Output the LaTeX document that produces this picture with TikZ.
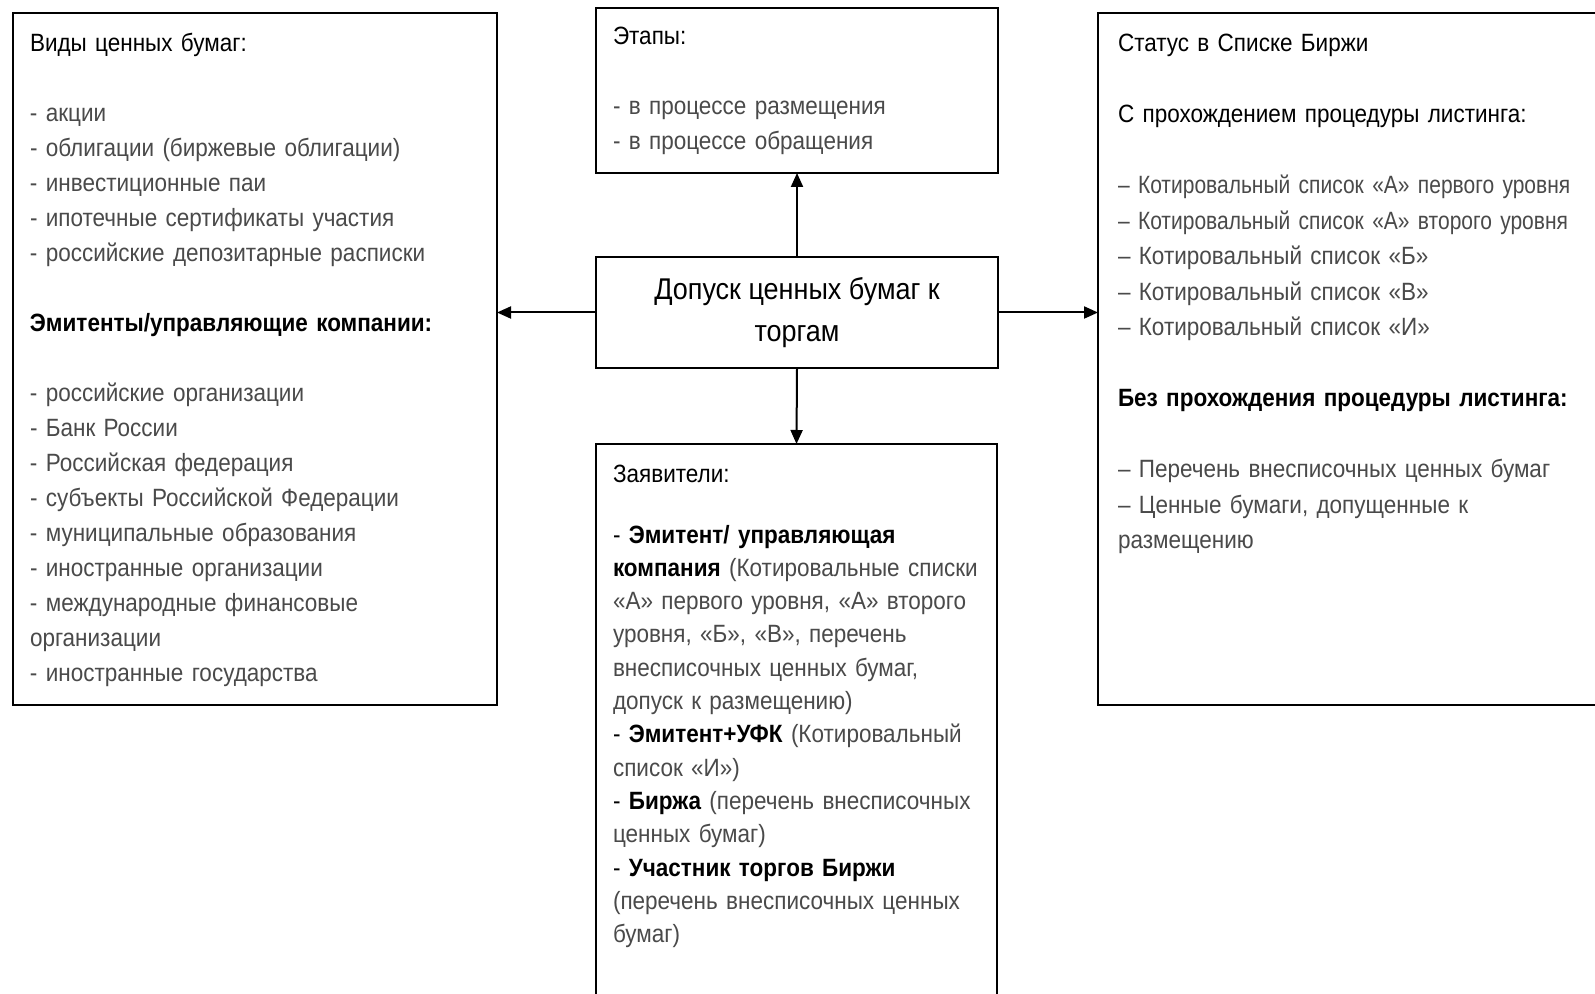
\documentclass[tikz,border=0pt]{standalone}
\usepackage{fontspec}
\setmainfont{Liberation Sans}[FakeStretch=0.9]
\newfontfamily\narrowf{Liberation Sans}[FakeStretch=0.84]
\usetikzlibrary{arrows.meta}
\definecolor{itemgray}{HTML}{4A4A4A}
\begin{document}
\begin{tikzpicture}[x=0.5pt,y=-0.5pt,
  box/.style={draw=black,line width=1.2pt,inner sep=0pt,outer sep=0pt,fill=white},
  txt/.style={anchor=base west,inner sep=0pt,outer sep=0pt,align=left,
    font=\fontsize{12.5}{17.5}\selectfont,text=itemgray},
  conn/.style={draw=black,line width=1pt,-{Triangle[length=7pt,width=6pt]}},
  hd/.style={text=black}]
\useasboundingbox (0,0) rectangle (1595,994);
\clip (0,0) rectangle (1595,994);
\fill[white] (0,0) rectangle (1595,994);
% boxes
\node[box,minimum width=242pt,minimum height=346pt] (left) at (255,359) {};
\node[box,minimum width=201pt,minimum height=82.5pt] (top) at (797,90.5) {};
\node[box,minimum width=201pt,minimum height=55.5pt] (mid) at (797,312.5) {};
\node[box,minimum width=200.5pt,minimum height=283pt] (bot) at (796.5,727) {};
\node[box,minimum width=261pt,minimum height=346pt] (right) at (1359,359) {};
% connectors
\draw[conn] (mid.north) -- (top.south);
\draw[conn] (mid.south) -- (bot.north);
\draw[conn] (mid.west) -- (mid.west -| left.east);
\draw[conn] (mid.east) -- (mid.east -| right.west);
% center text
\node[inner sep=0pt,align=center,font=\fontsize{15}{21}\selectfont,text=black] (midtxt) at (mid.center) {Допуск ценных бумаг к\\торгам};
% left text
\node[txt,text width=230pt] (lefttxt) at (30,52) {%
{\color{black}Виды ценных бумаг:}\\
\mbox{}\\
- акции\\
- облигации (биржевые облигации)\\
- инвестиционные паи\\
- ипотечные сертификаты участия\\
- российские депозитарные расписки\\
\mbox{}\\
{\color{black}\bfseries Эмитенты/управляющие компании:}\\
\mbox{}\\
- российские организации\\
- Банк России\\
- Российская федерация\\
- субъекты Российской Федерации\\
- муниципальные образования\\
- иностранные организации\\
- международные финансовые\\
организации\\
- иностранные государства};
% top text
\node[txt,text width=190pt] (toptxt) at (613,45) {%
{\color{black}Этапы:}\\
\mbox{}\\
- в процессе размещения\\
- в процессе обращения};
% right text
\node[txt,text width=235pt,font=\fontsize{12.5}{17.75}\selectfont] (righttxt) at (1118,52) {%
{\color{black}Статус в Списке Биржи}\\
\mbox{}\\
{\color{black}С прохождением процедуры листинга:}\\
\mbox{}\\
{\narrowf – Котировальный список «А» первого уровня}\\
{\narrowf – Котировальный список «А» второго уровня}\\
– Котировальный список «Б»\\
– Котировальный список «В»\\
– Котировальный список «И»\\
\mbox{}\\
{\color{black}\bfseries Без прохождения процедуры листинга:}\\
\mbox{}\\
– Перечень внесписочных ценных бумаг\\
– Ценные бумаги, допущенные к\\
размещению};
% bottom text
\node[txt,text=black] (bothd) at (613,482) {Заявители:};
\node[txt,text width=190pt,font=\fontsize{12.5}{16.65}\selectfont] (bottxt) at (613,543) {%
{\color{black}- \bfseries Эмитент/ управляющая}\\
{\color{black}\bfseries компания} (Котировальные списки\\
«А» первого уровня, «А» второго\\
уровня, «Б», «В», перечень\\
внесписочных ценных бумаг,\\
допуск к размещению)\\
{\color{black}- \bfseries Эмитент+УФК} (Котировальный\\
список «И»)\\
{\color{black}- \bfseries Биржа} (перечень внесписочных\\
ценных бумаг)\\
{\color{black}- \bfseries Участник торгов Биржи}\\
(перечень внесписочных ценных\\
бумаг)};
\end{tikzpicture}
\end{document}
